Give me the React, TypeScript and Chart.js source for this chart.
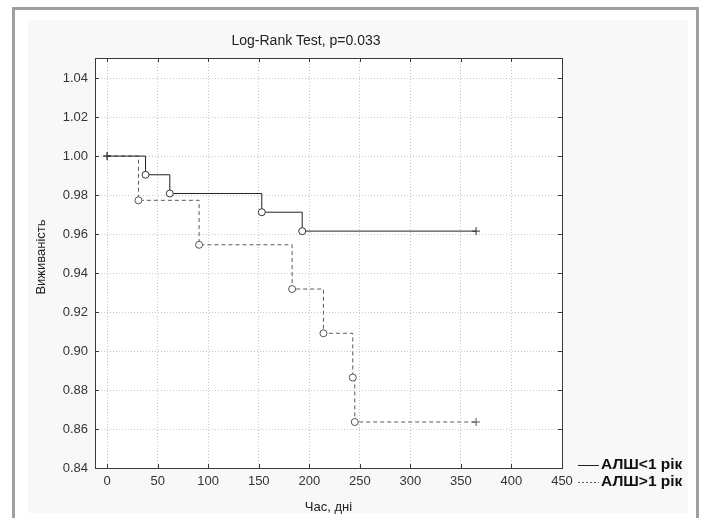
import React, { useEffect, useRef } from "react";
import { Chart, registerables } from "chart.js";

Chart.register(...registerables);

const titleText = "Log-Rank Test, p=0.033";
const xAxisTitle = "Час, дні";
const yAxisTitle = "Виживаність";
const seriesLabels = ["АЛШ<1 рік", "АЛШ>1 рік"];
const xTickValues = [0, 50, 100, 150, 200, 250, 300, 350, 400, 450];
const yTickValues = [0.84, 0.86, 0.88, 0.9, 0.92, 0.94, 0.96, 0.98, 1.0, 1.02, 1.04];
const group1Times = [0, 38, 62, 153, 193, 365];
const group1Surv = [1.0, 0.9904, 0.9808, 0.9712, 0.9615, 0.9615];
const group2Times = [0, 31, 91, 183, 214, 243, 245, 365];
const group2Surv = [1.0, 0.9773, 0.9545, 0.9318, 0.9091, 0.8864, 0.8636, 0.8636];

const FONT = "'Liberation Sans', Arial, sans-serif";
const lineColors = ["#222222", "#5a5a5a"];
const lineDashes: number[][] = [[], [4, 3]];
const legendDashes: number[][] = [[], [2, 2]];

const decorPlugin = {
  id: "decor",
  beforeDraw(chart: any) {
    const { ctx, chartArea } = chart;
    ctx.save();
    ctx.fillStyle = "#ffffff";
    ctx.fillRect(0, 0, chart.width, chart.height);
    ctx.strokeStyle = "#a0a0a0";
    ctx.lineWidth = 3;
    ctx.strokeRect(13.5, 8.5, 684, 530);
    ctx.fillStyle = "#f8f8f8";
    ctx.fillRect(28, 20, 660, 493);
    ctx.fillStyle = "#ffffff";
    ctx.fillRect(chartArea.left, chartArea.top, chartArea.right - chartArea.left, chartArea.bottom - chartArea.top);
    ctx.restore();
  },
  afterDraw(chart: any) {
    const { ctx, chartArea, scales } = chart;
    const { left, right, top, bottom } = chartArea;
    ctx.save();
    ctx.strokeStyle = "#3a3a3a";
    ctx.lineWidth = 1;
    ctx.strokeRect(Math.round(left) + 0.5, Math.round(top) + 0.5, Math.round(right - left), Math.round(bottom - top));
    ctx.beginPath();
    xTickValues.forEach((v) => {
      const x = Math.round(scales.x.getPixelForValue(v)) + 0.5;
      ctx.moveTo(x, bottom);
      ctx.lineTo(x, bottom - 4);
      ctx.moveTo(x, top);
      ctx.lineTo(x, top + 4);
    });
    yTickValues.forEach((v) => {
      const y = Math.round(scales.y.getPixelForValue(v)) + 0.5;
      ctx.moveTo(left, y);
      ctx.lineTo(left + 4, y);
      ctx.moveTo(right, y);
      ctx.lineTo(right - 4, y);
    });
    ctx.stroke();
    ctx.fillStyle = "#222222";
    ctx.font = `14px ${FONT}`;
    ctx.textAlign = "center";
    ctx.textBaseline = "middle";
    ctx.fillText(titleText, 306, 41);
    ctx.save();
    ctx.translate(41, 257);
    ctx.rotate(-Math.PI / 2);
    ctx.font = `13px ${FONT}`;
    ctx.fillText(yAxisTitle, 0, 0);
    ctx.restore();
    const items = chart.data.datasets.map((d: any, i: number) => ({ label: d.label, i }));
    items.forEach((it: any, k: number) => {
      const y = 465 + k * 17;
      ctx.save();
      ctx.strokeStyle = lineColors[it.i];
      ctx.lineWidth = 1;
      ctx.setLineDash(legendDashes[it.i]);
      ctx.beginPath();
      ctx.moveTo(578, Math.round(y) + 0.5);
      ctx.lineTo(599, Math.round(y) + 0.5);
      ctx.stroke();
      ctx.restore();
      ctx.fillStyle = "#111111";
      ctx.font = `bold 15.5px ${FONT}`;
      ctx.textAlign = "left";
      ctx.textBaseline = "middle";
      ctx.fillText(it.label, 601, y);
    });
    ctx.restore();
  },
};

function makePoints(ts: number[], ss: number[]) {
  return ts.map((t, i) => ({ x: t, y: ss[i] }));
}

export default function App() {
  const ref = useRef<HTMLCanvasElement | null>(null);
  useEffect(() => {
    if (!ref.current) return;
    const styleFor = (n: number) => (c: any) => (c.dataIndex === 0 || c.dataIndex === n - 1 ? "cross" : "circle");
    const radiusFor = (n: number) => (c: any) => (c.dataIndex === 0 || c.dataIndex === n - 1 ? 4 : 3.5);
    const chart = new Chart(ref.current, {
      type: "line",
      data: {
        datasets: [
          {
            label: seriesLabels[0],
            data: makePoints(group1Times, group1Surv),
            stepped: "before",
            borderColor: lineColors[0],
            borderWidth: 1,
            borderDash: lineDashes[0],
            pointStyle: styleFor(group1Times.length),
            pointRadius: radiusFor(group1Times.length),
            pointBackgroundColor: "#ffffff",
            pointBorderColor: "#333333",
            pointBorderWidth: 1,
            fill: false,
          },
          {
            label: seriesLabels[1],
            data: makePoints(group2Times, group2Surv),
            stepped: "before",
            borderColor: lineColors[1],
            borderWidth: 1,
            borderDash: lineDashes[1],
            pointStyle: styleFor(group2Times.length),
            pointRadius: radiusFor(group2Times.length),
            pointBackgroundColor: "#ffffff",
            pointBorderColor: "#555555",
            pointBorderWidth: 1,
            fill: false,
          },
        ],
      },
      options: {
        responsive: false,
        animation: false,
        parsing: false as any,
        layout: { padding: { left: 0, top: 58, right: 140, bottom: 0 } },
        plugins: {
          legend: { display: false },
          title: { display: false },
          tooltip: { enabled: false },
        },
        scales: {
          x: {
            type: "linear",
            min: -12,
            max: 450,
            afterBuildTicks: (s: any) => {
              s.ticks = xTickValues.map((v) => ({ value: v }));
            },
            afterFit: (s: any) => {
              s.height = 50;
            },
            ticks: {
              autoSkip: false,
              maxRotation: 0,
              padding: 6,
              color: "#333333",
              font: { family: FONT, size: 13 },
            },
            grid: { color: "#c8c8c8", lineWidth: 1, drawTicks: false },
            border: { display: false, dash: [1, 2] },
            title: {
              display: true,
              text: xAxisTitle,
              color: "#222222",
              font: { family: FONT, size: 13 },
              padding: { top: 0, bottom: 3 },
            },
          },
          y: {
            type: "linear",
            min: 0.84,
            max: 1.0503,
            afterBuildTicks: (s: any) => {
              s.ticks = yTickValues.map((v) => ({ value: v }));
            },
            afterFit: (s: any) => {
              s.width = 95;
            },
            ticks: {
              padding: 7,
              color: "#333333",
              font: { family: FONT, size: 13 },
              callback: (v: any) => Number(v).toFixed(2),
            },
            grid: { color: "#c8c8c8", lineWidth: 1, drawTicks: false },
            border: { display: false, dash: [1, 2] },
          },
        },
      },
      plugins: [decorPlugin],
    });
    return () => chart.destroy();
  }, []);
  return (
    <div style={{ position: "fixed", left: 0, top: 0, width: 702, height: 518 }}>
      <canvas ref={ref} width={702} height={518} style={{ display: "block" }} />
    </div>
  );
}
